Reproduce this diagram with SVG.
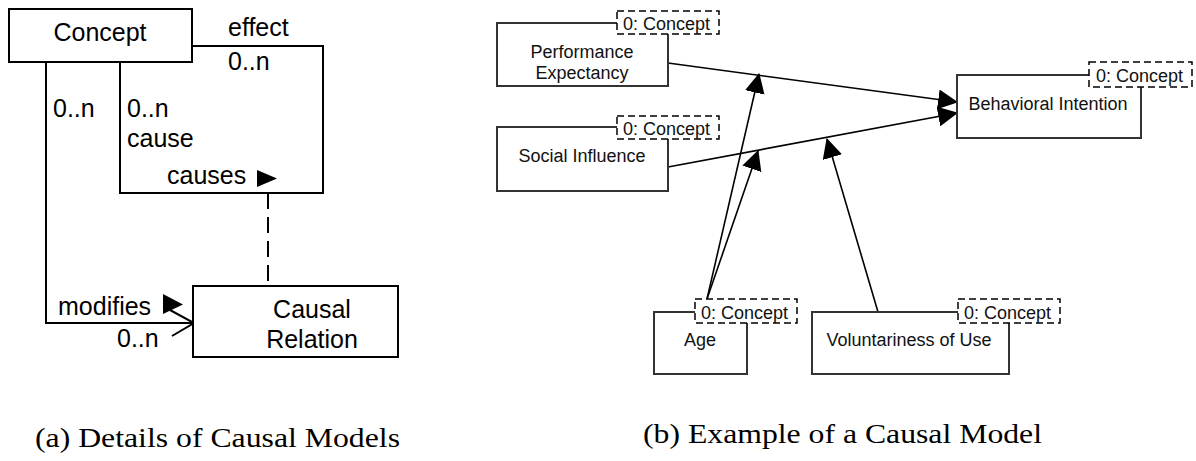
<svg xmlns="http://www.w3.org/2000/svg" width="1196" height="461" viewBox="0 0 1196 461">
<style>
.box{fill:#fff;stroke:#000;stroke-width:2}
.nbox{fill:#fff;stroke:#333;stroke-width:2}
.lbl{fill:#fff;stroke:#000;stroke-width:1.5;stroke-dasharray:7,4}
.conn{fill:none;stroke:#000;stroke-width:2}
.rconn{fill:none;stroke:#000;stroke-width:1.6}
.t25{font-family:"Liberation Sans",Arial,sans-serif;font-size:25px;fill:#000}
.t18{font-family:"Liberation Sans",Arial,sans-serif;font-size:18px;fill:#111}
.cap{font-family:"Liberation Serif","Times New Roman",serif;font-size:27px;fill:#000}
</style>
<defs>
<marker id="ah" markerUnits="userSpaceOnUse" markerWidth="20" markerHeight="20" viewBox="0 0 18 18" refX="17" refY="9" orient="auto">
<path d="M0,0 L18,9 L0,18 Z" fill="#000"/>
</marker>
</defs>

<!-- (a) connectors -->
<g id="connectors-a">
<path class="conn" d="M192,46 H323 V193 H120 V62"/>
<path class="conn" d="M46,62 V323 H194"/>
<path class="conn" d="M170,310 L194,323 L172,336"/>
<line class="conn" x1="268" y1="193" x2="268" y2="286" stroke-dasharray="16,8"/>
<polygon points="257,170 277,178.5 257,187" fill="#000"/>
<polygon points="163,294 183,304.5 163,314" fill="#000"/>
</g>
<g id="node-concept">
<rect class="box" x="9" y="9" width="183" height="53"/>
<text class="t25" x="100" y="41" text-anchor="middle">Concept</text>
</g>
<g id="node-causal-relation">
<rect class="box" x="193" y="286" width="205" height="71"/>
<text class="t25" x="312" y="318" text-anchor="middle">Causal</text>
<text class="t25" x="312" y="348" text-anchor="middle">Relation</text>
</g>
<g id="labels-a">
<text class="t25" x="228" y="36">effect</text>
<text class="t25" x="228" y="70">0..n</text>
<text class="t25" x="53" y="117">0..n</text>
<text class="t25" x="127" y="117">0..n</text>
<text class="t25" x="127" y="147">cause</text>
<text class="t25" x="167" y="184">causes</text>
<text class="t25" x="58" y="315">modifies</text>
<text class="t25" x="117" y="347">0..n</text>
</g>
<text class="cap" x="35" y="447" textLength="365" lengthAdjust="spacingAndGlyphs">(a) Details of Causal Models</text>

<!-- (b) connectors -->
<g id="connectors-b">
<line class="rconn" x1="668" y1="63" x2="957" y2="102" marker-end="url(#ah)"/>
<line class="rconn" x1="668" y1="167" x2="957" y2="113" marker-end="url(#ah)"/>
<line class="rconn" x1="707" y1="299" x2="759" y2="74" marker-end="url(#ah)"/>
<line class="rconn" x1="707" y1="299" x2="758" y2="151" marker-end="url(#ah)"/>
<line class="rconn" x1="878" y1="312" x2="827" y2="139" marker-end="url(#ah)"/>
</g>
<g id="node-pe">
<rect class="nbox" x="497" y="23" width="171" height="63"/>
<rect class="lbl" x="617" y="11" width="102" height="23"/>
<text class="t18" x="623" y="30">0: Concept</text>
<text class="t18" x="582" y="58" text-anchor="middle">Performance</text>
<text class="t18" x="582" y="79" text-anchor="middle">Expectancy</text>
</g>
<g id="node-si">
<rect class="nbox" x="497" y="127" width="171" height="64"/>
<rect class="lbl" x="617" y="116" width="102" height="23"/>
<text class="t18" x="623" y="135">0: Concept</text>
<text class="t18" x="582" y="162" text-anchor="middle">Social Influence</text>
</g>
<g id="node-bi">
<rect class="nbox" x="957" y="75" width="184" height="63"/>
<rect class="lbl" x="1089" y="62" width="103" height="25"/>
<text class="t18" x="1096" y="82">0: Concept</text>
<text class="t18" x="1048" y="110" text-anchor="middle">Behavioral Intention</text>
</g>
<g id="node-age">
<rect class="nbox" x="654" y="312" width="93" height="62"/>
<rect class="lbl" x="695" y="299" width="102" height="24"/>
<text class="t18" x="701" y="319">0: Concept</text>
<text class="t18" x="700" y="346" text-anchor="middle">Age</text>
</g>
<g id="node-vol">
<rect class="nbox" x="812" y="312" width="197" height="62"/>
<rect class="lbl" x="958" y="299" width="102" height="24"/>
<text class="t18" x="964" y="319">0: Concept</text>
<text class="t18" x="909" y="346" text-anchor="middle">Voluntariness of Use</text>
</g>
<text class="cap" x="643" y="443" textLength="399" lengthAdjust="spacingAndGlyphs">(b) Example of a Causal Model</text>
</svg>
